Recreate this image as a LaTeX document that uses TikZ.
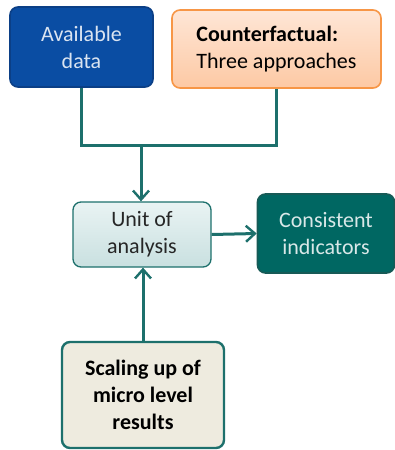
\documentclass[tikz,border=0pt]{standalone}
\usepackage{fontspec}
\setmainfont{Carlito}
\usetikzlibrary{arrows.meta,positioning}
\definecolor{lnk}{HTML}{1D706C}
\definecolor{navy}{HTML}{0A4DA3}
\definecolor{navyedge}{HTML}{0B3F86}
\definecolor{peach}{HTML}{FDC9A4}
\definecolor{peachtop}{HTML}{FEE6D6}
\definecolor{orangeedge}{HTML}{F79646}
\definecolor{paleteal}{HTML}{C9E0E0}
\definecolor{paletealtop}{HTML}{E9F3F3}
\definecolor{deepteal}{HTML}{006762}
\definecolor{cream}{HTML}{EEEBDF}
\tikzset{
  x=1pt, y=-1pt,
  box/.style={rounded corners=8pt, line width=1.6pt, align=center, inner sep=0pt,
    font=\fontsize{22}{27}\selectfont},
  link/.style={draw=lnk, line width=3pt},
  arr/.style={link, -{Straight Barb[length=9pt,width=16pt,line width=2.4pt]}},
}
\begin{document}
\begin{tikzpicture}
\useasboundingbox (0,0) rectangle (395,450);
% upper sources
\node[box, draw=navyedge, fill=navy, text=white!85!navy,
  minimum width=143pt, minimum height=80pt] (data) at (81.5,47) {Available\\data};
\node[box, align=left, draw=orangeedge, top color=peachtop, bottom color=peach,
  minimum width=209pt, minimum height=78pt] (cf) at (276.5,49)
  {\textbf{Counterfactual:}\\Three approaches};
% central unit
\node[box, draw=lnk, line width=1.3pt, top color=paletealtop, bottom color=paleteal,
  text=black!85, minimum width=138pt, minimum height=65pt] (unit) at (142,234.5)
  {Unit of\\analysis};
% result
\node[box, draw=lnk!80!black, fill=deepteal, text=white!85!deepteal,
  minimum width=137pt, minimum height=79pt] (ind) at (326,233.5)
  {Consistent\\indicators};
% scaling up
\node[box, draw=lnk, line width=2.4pt, fill=cream,
  minimum width=162pt, minimum height=106pt] (scale) at (143,395)
  {\textbf{Scaling up of}\\\textbf{micro level}\\\textbf{results}};
% merge junction
\coordinate (j) at (141,145);
\draw[link] (data.south) |- (j);
\draw[link] (cf.south) |- (j);
\draw[arr] (j) -- (j |- unit.north);
\draw[arr] (unit.east) -- (ind.west);
\draw[arr] (scale.north) -- (scale.north |- unit.south);
\end{tikzpicture}
\end{document}
